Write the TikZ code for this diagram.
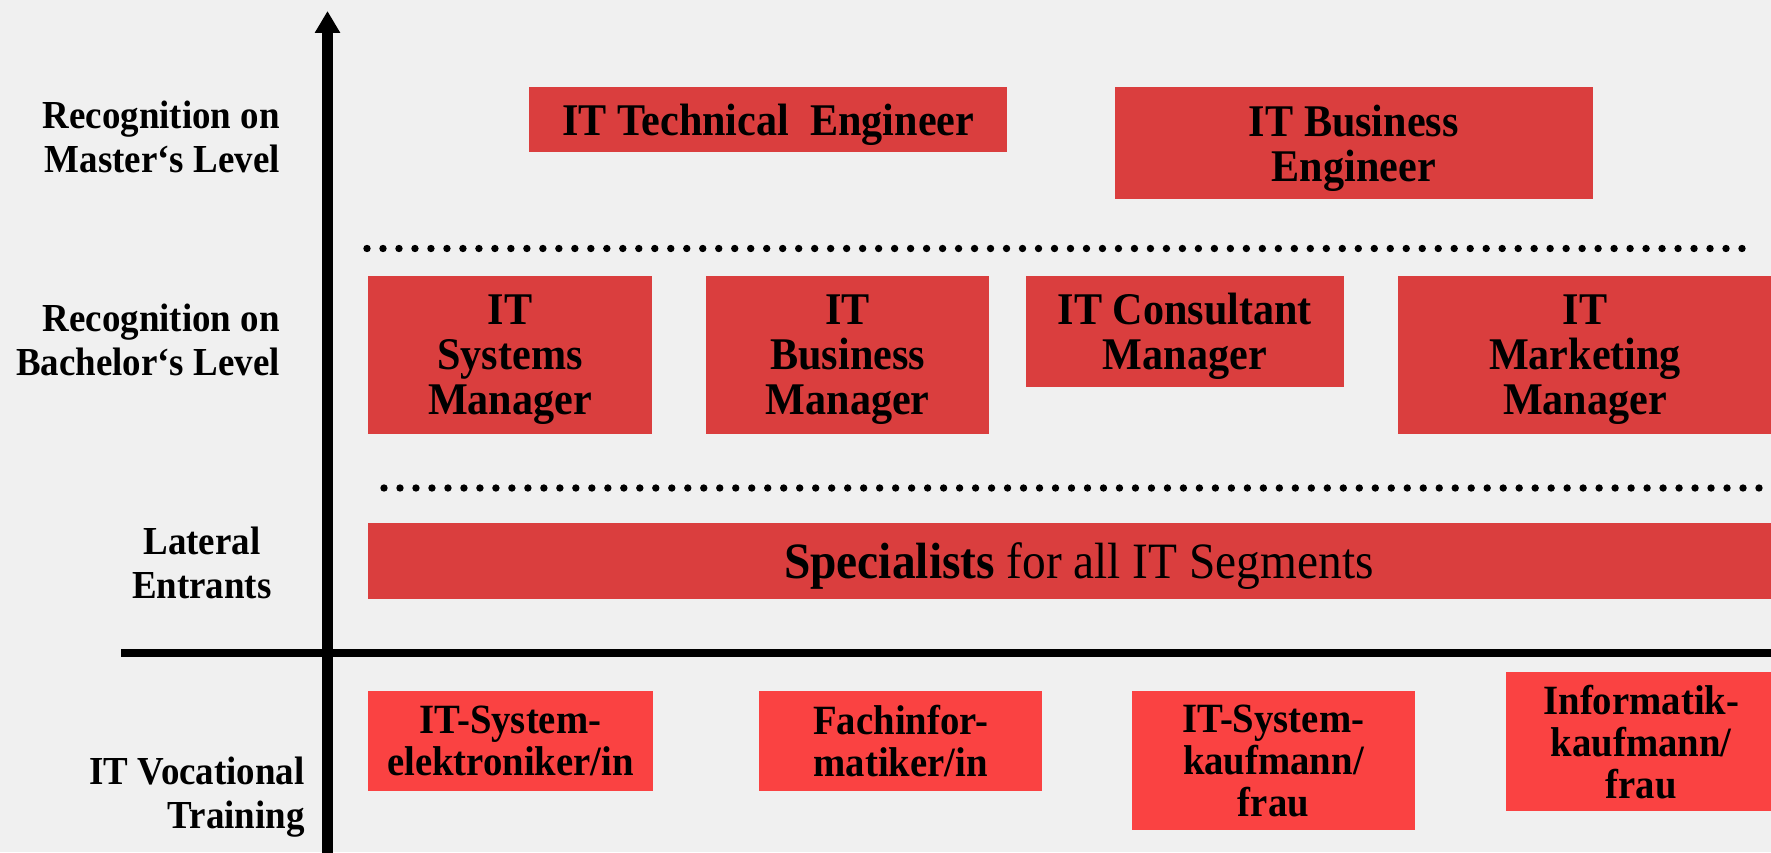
\documentclass[tikz,border=0pt]{standalone}
\usepackage{fontspec}
\setmainfont{Liberation Serif}[FakeStretch=0.93]
\usetikzlibrary{arrows.meta}
\definecolor{paper}{RGB}{240,240,240}
\definecolor{boxred}{RGB}{218,62,62}
\definecolor{trainred}{RGB}{250,66,66}
\tikzset{
  levelbox/.style={fill=boxred, inner sep=0pt, align=center, text depth=0pt, font=\fontsize{25.8}{25.6}\selectfont\bfseries},
  trainbox/.style={fill=trainred, inner sep=0pt, align=center, text depth=0pt, font=\fontsize{23.7}{24}\selectfont\bfseries},
  levellabel/.style={anchor=east, align=right, inner sep=0pt, font=\fontsize{22.6}{25}\selectfont\bfseries},
  dotline/.style={line width=4.2pt, line cap=round, dash pattern=on 0pt off 9.1pt},
}

\begin{document}
\begin{tikzpicture}[x=0.02cm, y=-0.02cm]
\useasboundingbox (0,0) rectangle (1771,852);
\clip (0,0) rectangle (1771,852);
\fill[paper] (0,0) rectangle (1771,852);

% axes
\coordinate (ytop) at (327.5,11);
\coordinate (ybot) at (327.5,860);
\coordinate (xleft) at (121,653);
\coordinate (xright) at (1780,653);
\draw[line width=4.6pt] (xleft)--(xright);
\draw[line width=6.6pt,-{Triangle[width=13.7pt,length=12.5pt]}] (ybot)--(ytop);

% dotted separators
\coordinate (sepa1) at (367,248.5);
\coordinate (sepa2) at (1749,248.5);
\coordinate (sepb1) at (384,488);
\coordinate (sepb2) at (1775,488);
\draw[dotline] (sepa1)--(sepa2);
\draw[dotline] (sepb1)--(sepb2);

% master level
\node[levelbox, minimum width=9.57cm, minimum height=1.31cm] (techeng) at (768.25,119.75) {IT Technical\ \ Engineer};
\node[levelbox, minimum width=9.552cm, minimum height=2.24cm] (buseng) at (1353.8,143) {IT Business\\Engineer};

% bachelor level
\node[levelbox, minimum width=5.68cm, minimum height=3.162cm] (sysman) at (510,354.65) {IT\\Systems\\Manager};
\node[levelbox, minimum width=5.668cm, minimum height=3.162cm] (busman) at (847.7,354.65) {IT\\Business\\Manager};
\node[levelbox, minimum width=6.368cm, minimum height=2.236cm] (consman) at (1184.8,331.5) {IT Consultant\\Manager};
\node[levelbox, minimum width=7.48cm, minimum height=3.162cm] (markman) at (1585,354.65) {IT\\Marketing\\Manager};

% lateral entrants
\node[levelbox, minimum width=28.44cm, minimum height=1.512cm, font=\fontsize{29}{30}\selectfont] (special) at (1079,560.8) {\textbf{Specialists} for all IT Segments};

% vocational training
\node[trainbox, minimum width=5.7cm, minimum height=1.992cm] (elektro) at (510.5,740.8) {IT-System-\\elektroniker/in};
\node[trainbox, minimum width=5.67cm, minimum height=1.992cm] (fachinf) at (900.75,740.8) {Fachinfor-\\matiker/in};
\node[trainbox, minimum width=5.664cm, minimum height=2.78cm] (syskauf) at (1273.4,760.5) {IT-System-\\kaufmann/\\frau};
\node[trainbox, minimum width=5.428cm, minimum height=2.78cm] (infkauf) at (1641.3,741.5) {Informatik-\\kaufmann/\\frau};

% level labels
\node[levellabel] (masterlbl) at (280,137) {Recognition on\\Master‘s Level};
\node[levellabel] (bachlbl) at (280,340) {Recognition on\\Bachelor‘s Level};
\node[levellabel, align=center] (laterallbl) at (272,563) {Lateral\\Entrants};
\node[levellabel] (vocallbl) at (305,797) {IT Vocational\\Training};
\end{tikzpicture}
\end{document}
